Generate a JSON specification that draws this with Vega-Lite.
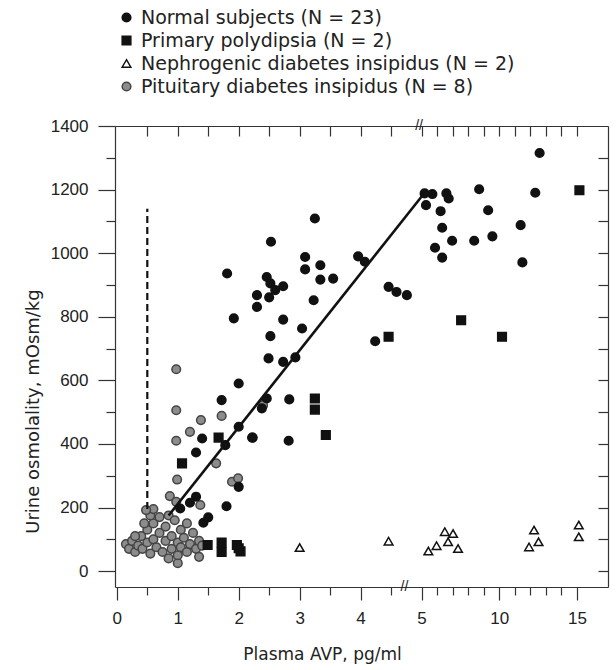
{
  "$schema": "https://vega.github.io/schema/vega-lite/v6.json",
  "width": 493,
  "height": 461,
  "autosize": {"type": "none"},
  "padding": {"left": 115, "top": 126, "right": 8, "bottom": 83},
  "background": "white",
  "config": {
    "view": {"stroke": null},
    "font": "Liberation Sans",
    "axis": {"grid": false, "domainColor": "#333", "tickColor": "#333", "labelColor": "#222", "titleColor": "#222", "labelFont": "Liberation Sans", "titleFont": "DejaVu Sans", "labelFontSize": 17, "titleFontSize": 17, "titleFontWeight": "normal", "domainWidth": 1.2, "tickWidth": 1.2}
  },
  "datasets": {
    "pts": [
      {"g": "C", "x": 0.15, "y": 85}, {"g": "C", "x": 0.2, "y": 70}, {"g": "C", "x": 0.25, "y": 95}, {"g": "C", "x": 0.3, "y": 60},
      {"g": "C", "x": 0.35, "y": 80}, {"g": "C", "x": 0.4, "y": 110}, {"g": "C", "x": 0.42, "y": 70}, {"g": "C", "x": 0.5, "y": 90},
      {"g": "C", "x": 0.5, "y": 130}, {"g": "C", "x": 0.55, "y": 55}, {"g": "C", "x": 0.6, "y": 150}, {"g": "C", "x": 0.6, "y": 100},
      {"g": "C", "x": 0.65, "y": 75}, {"g": "C", "x": 0.7, "y": 170}, {"g": "C", "x": 0.7, "y": 120}, {"g": "C", "x": 0.75, "y": 60},
      {"g": "C", "x": 0.8, "y": 95}, {"g": "C", "x": 0.8, "y": 140}, {"g": "C", "x": 0.85, "y": 175}, {"g": "C", "x": 0.85, "y": 40},
      {"g": "C", "x": 0.9, "y": 110}, {"g": "C", "x": 0.9, "y": 70}, {"g": "C", "x": 0.95, "y": 160}, {"g": "C", "x": 1.0, "y": 90},
      {"g": "C", "x": 1.0, "y": 25}, {"g": "C", "x": 1.0, "y": 50}, {"g": "C", "x": 1.05, "y": 130}, {"g": "C", "x": 1.05, "y": 75},
      {"g": "C", "x": 1.1, "y": 105}, {"g": "C", "x": 1.15, "y": 60}, {"g": "C", "x": 1.15, "y": 150}, {"g": "C", "x": 1.2, "y": 85},
      {"g": "C", "x": 1.25, "y": 120}, {"g": "C", "x": 1.3, "y": 70}, {"g": "C", "x": 1.35, "y": 95}, {"g": "C", "x": 1.35, "y": 45},
      {"g": "C", "x": 1.4, "y": 80}, {"g": "C", "x": 0.55, "y": 175}, {"g": "C", "x": 0.45, "y": 150}, {"g": "C", "x": 0.6, "y": 195},
      {"g": "C", "x": 0.3, "y": 110},
      {"g": "C", "x": 0.975, "y": 635}, {"g": "C", "x": 0.975, "y": 506}, {"g": "C", "x": 1.72, "y": 488}, {"g": "C", "x": 1.38, "y": 475},
      {"g": "C", "x": 1.2, "y": 438}, {"g": "C", "x": 0.975, "y": 410}, {"g": "C", "x": 1.63, "y": 339}, {"g": "C", "x": 0.99, "y": 288},
      {"g": "C", "x": 2.4, "y": 522}, {"g": "C", "x": 1.89, "y": 281}, {"g": "C", "x": 1.99, "y": 292}, {"g": "C", "x": 0.87, "y": 236},
      {"g": "C", "x": 0.975, "y": 218}, {"g": "C", "x": 1.37, "y": 208}, {"g": "C", "x": 0.48, "y": 192},
      {"g": "N", "x": 1.81, "y": 936}, {"g": "N", "x": 2.3, "y": 868}, {"g": "N", "x": 2.3, "y": 831}, {"g": "N", "x": 1.92, "y": 795},
      {"g": "N", "x": 3.25, "y": 1109}, {"g": "N", "x": 2.53, "y": 1036}, {"g": "N", "x": 3.09, "y": 988}, {"g": "N", "x": 3.09, "y": 949},
      {"g": "N", "x": 3.34, "y": 962}, {"g": "N", "x": 3.34, "y": 917}, {"g": "N", "x": 3.55, "y": 920}, {"g": "N", "x": 2.46, "y": 925},
      {"g": "N", "x": 2.52, "y": 905}, {"g": "N", "x": 2.6, "y": 884}, {"g": "N", "x": 2.73, "y": 896}, {"g": "N", "x": 2.5, "y": 861},
      {"g": "N", "x": 3.23, "y": 852}, {"g": "N", "x": 2.73, "y": 791}, {"g": "N", "x": 3.96, "y": 990}, {"g": "N", "x": 4.07, "y": 973},
      {"g": "N", "x": 4.46, "y": 894}, {"g": "N", "x": 4.59, "y": 878}, {"g": "N", "x": 4.76, "y": 868},
      {"g": "N", "x": 12.6, "y": 1315}, {"g": "N", "x": 5.2, "y": 1188}, {"g": "N", "x": 5.7, "y": 1186}, {"g": "N", "x": 6.6, "y": 1188},
      {"g": "N", "x": 6.75, "y": 1172}, {"g": "N", "x": 5.29, "y": 1151}, {"g": "N", "x": 6.23, "y": 1132}, {"g": "N", "x": 6.33, "y": 1080},
      {"g": "N", "x": 5.87, "y": 1017}, {"g": "N", "x": 6.33, "y": 986}, {"g": "N", "x": 6.97, "y": 1039}, {"g": "N", "x": 8.39, "y": 1039},
      {"g": "N", "x": 8.71, "y": 1201}, {"g": "N", "x": 9.29, "y": 1135}, {"g": "N", "x": 9.56, "y": 1053}, {"g": "N", "x": 11.38, "y": 1088},
      {"g": "N", "x": 11.49, "y": 971}, {"g": "N", "x": 12.32, "y": 1190}, {"g": "N", "x": 4.24, "y": 723},
      {"g": "N", "x": 2.0, "y": 590}, {"g": "N", "x": 1.72, "y": 538}, {"g": "N", "x": 1.4, "y": 417}, {"g": "N", "x": 2.0, "y": 454},
      {"g": "N", "x": 2.22, "y": 420}, {"g": "N", "x": 1.78, "y": 396}, {"g": "N", "x": 1.3, "y": 373}, {"g": "N", "x": 3.04, "y": 763},
      {"g": "N", "x": 2.52, "y": 739}, {"g": "N", "x": 2.49, "y": 669}, {"g": "N", "x": 2.73, "y": 658}, {"g": "N", "x": 2.93, "y": 672},
      {"g": "N", "x": 2.46, "y": 543}, {"g": "N", "x": 2.38, "y": 512}, {"g": "N", "x": 2.83, "y": 540}, {"g": "N", "x": 2.23, "y": 420},
      {"g": "N", "x": 2.82, "y": 410}, {"g": "N", "x": 2.0, "y": 265}, {"g": "N", "x": 1.04, "y": 197}, {"g": "N", "x": 1.3, "y": 234},
      {"g": "N", "x": 1.2, "y": 215}, {"g": "N", "x": 1.8, "y": 204}, {"g": "N", "x": 1.5, "y": 169}, {"g": "N", "x": 1.42, "y": 152},
      {"g": "P", "x": 1.07, "y": 339}, {"g": "P", "x": 1.67, "y": 420}, {"g": "P", "x": 3.43, "y": 428}, {"g": "P", "x": 3.25, "y": 543},
      {"g": "P", "x": 3.25, "y": 508}, {"g": "P", "x": 4.46, "y": 737}, {"g": "P", "x": 7.55, "y": 789}, {"g": "P", "x": 10.18, "y": 737},
      {"g": "P", "x": 15.16, "y": 1198}, {"g": "P", "x": 1.49, "y": 82}, {"g": "P", "x": 1.72, "y": 90}, {"g": "P", "x": 1.72, "y": 60},
      {"g": "P", "x": 1.97, "y": 82}, {"g": "P", "x": 2.03, "y": 62}, {"g": "P", "x": 2.0, "y": 72},
      {"g": "D", "x": 3.0, "y": 74}, {"g": "D", "x": 4.46, "y": 94}, {"g": "D", "x": 5.44, "y": 63}, {"g": "D", "x": 5.97, "y": 80},
      {"g": "D", "x": 6.5, "y": 124}, {"g": "D", "x": 7.03, "y": 118}, {"g": "D", "x": 6.71, "y": 92}, {"g": "D", "x": 7.35, "y": 71},
      {"g": "D", "x": 11.92, "y": 76}, {"g": "D", "x": 12.24, "y": 129}, {"g": "D", "x": 12.53, "y": 92}, {"g": "D", "x": 15.12, "y": 145},
      {"g": "D", "x": 15.12, "y": 108}
    ],
    "fit": [{"x": 0.85, "y": 175}, {"x": 5.2, "y": 1190}],
    "dash": [{"x": 0.5, "y": 195}, {"x": 0.5, "y": 1140}],
    "brk": [{"x": 4.96, "y": 1400, "t": "//"}, {"x": 4.72, "y": -50, "t": "//"}]
  },
  "layer": [
    {
      "data": {"name": "pts"},
      "mark": {"type": "point", "filled": true, "opacity": 1, "strokeWidth": 1.5},
      "encoding": {
        "x": {
          "field": "x", "type": "quantitative",
          "scale": {"domain": [-0.03, 5, 17], "range": [0, 306.5, 493], "nice": false, "zero": false},
          "axis": {
            "orient": "bottom",
            "values": [0, 0.5, 1, 1.5, 2, 2.5, 3, 3.5, 4, 4.5, 5, 6, 7, 8, 9, 10, 11, 12, 13, 14, 15],
            "labelExpr": "((datum.value <= 5 && datum.value % 1 == 0) || datum.value % 5 == 0) ? datum.label : ''",
            "tickSize": {"condition": {"test": "(datum.value <= 5 && datum.value % 1 == 0) || datum.value % 5 == 0", "value": 13}, "value": 8},
            "labelPadding": 10, "labelOverlap": false, "labelFlush": false,
            "title": "Plasma AVP, pg/ml", "titlePadding": 20, "titleX": 207, "titleAnchor": "middle"
          }
        },
        "y": {
          "field": "y", "type": "quantitative",
          "scale": {"domain": [-50, 1400], "nice": false, "zero": false},
          "axis": {
            "orient": "left",
            "values": [0, 100, 200, 300, 400, 500, 600, 700, 800, 900, 1000, 1100, 1200, 1300, 1400],
            "format": "d",
            "labelExpr": "datum.value % 200 == 0 ? datum.label : ''",
            "tickSize": {"condition": {"test": "datum.value % 200 == 0", "value": 17}, "value": 9},
            "labelPadding": 10, "labelOverlap": false, "labelFlush": false,
            "title": "Urine osmolality, mOsm/kg", "titlePadding": 8, "titleFontSize": 18, "titleY": 285, "titleAnchor": "middle"
          }
        },
        "shape": {
          "field": "g", "type": "nominal",
          "scale": {"domain": ["N", "P", "D", "C"], "range": ["circle", "square", "triangle-up", "circle"]},
          "legend": {
            "orient": "none", "legendX": 2, "legendY": -118, "title": null, "padding": 0,
            "labelFontSize": 19, "labelFont": "DejaVu Sans", "labelColor": "#222", "rowPadding": 3, "labelOffset": 5,
            "symbolStrokeWidth": 1.5, "labelLimit": 0,
            "labelExpr": "{'N': 'Normal subjects (N = 23)', 'P': 'Primary polydipsia (N = 2)', 'D': 'Nephrogenic diabetes insipidus (N = 2)', 'C': 'Pituitary diabetes insipidus (N = 8)'}[datum.label]"
          }
        },
        "fill": {
          "field": "g", "type": "nominal",
          "scale": {"domain": ["N", "P", "D", "C"], "range": ["#111", "#111", "#ffffff", "#8c8c8c"]}
        },
        "stroke": {
          "field": "g", "type": "nominal",
          "scale": {"domain": ["N", "P", "D", "C"], "range": ["#111", "#111", "#111", "#444"]}
        },
        "size": {
          "field": "g", "type": "nominal",
          "scale": {"domain": ["N", "P", "D", "C"], "range": [75, 75, 120, 85]}
        }
      }
    },
    {
      "data": {"name": "fit"},
      "mark": {"type": "line", "color": "#111", "strokeWidth": 2.6},
      "encoding": {
        "x": {"field": "x", "type": "quantitative", "axis": {"orient": "top", "values": [0.5, 1, 1.5, 2, 2.5, 3, 3.5, 4, 4.5, 5, 6, 7, 8, 9, 10, 11, 12, 13, 14, 15], "labels": false, "tickSize": -10, "title": null}},
        "y": {"field": "y", "type": "quantitative", "axis": {"orient": "right", "values": [0, 100, 200, 300, 400, 500, 600, 700, 800, 900, 1000, 1100, 1200, 1300], "labels": false, "tickSize": -10, "title": null}}
      }
    },
    {
      "data": {"name": "dash"},
      "mark": {"type": "line", "color": "#111", "strokeWidth": 2.2, "strokeDash": [7, 4]},
      "encoding": {
        "x": {"field": "x", "type": "quantitative", "axis": null},
        "y": {"field": "y", "type": "quantitative", "axis": null}
      }
    },
    {
      "data": {"name": "brk"},
      "mark": {"type": "text", "fontSize": 14, "font": "Liberation Sans", "color": "#222", "baseline": "middle", "align": "center"},
      "encoding": {
        "x": {"field": "x", "type": "quantitative", "axis": null},
        "y": {"field": "y", "type": "quantitative", "axis": null},
        "text": {"field": "t"}
      }
    }
  ],
  "resolve": {"axis": {"x": "independent", "y": "independent"}}
}
